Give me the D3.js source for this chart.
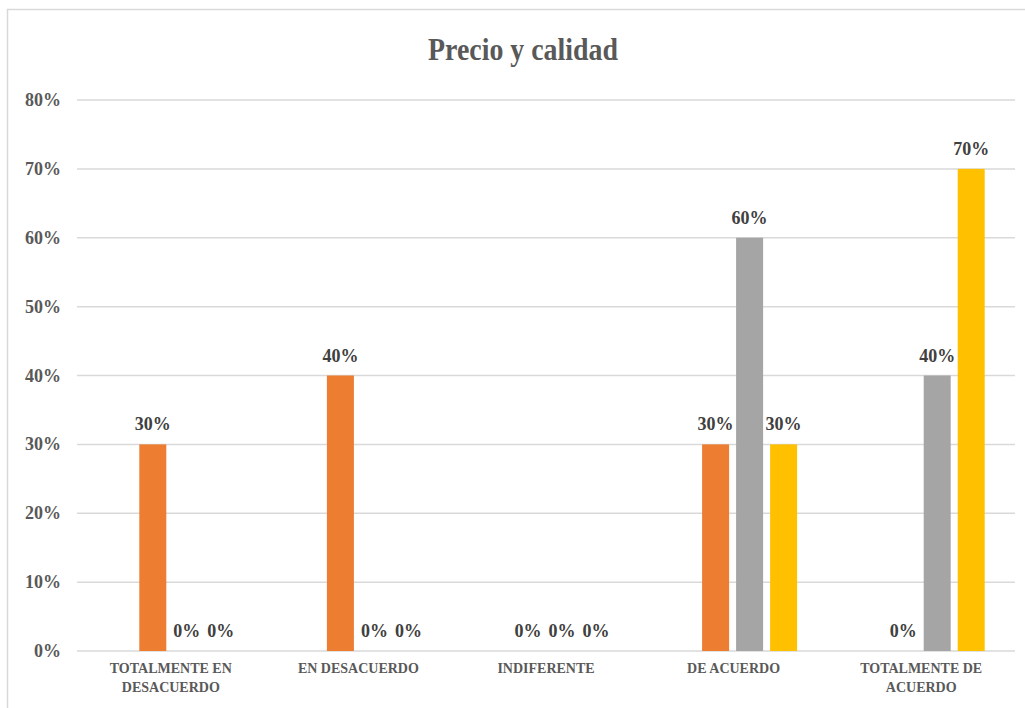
<!DOCTYPE html>
<html>
<head>
<meta charset="utf-8">
<script src="https://cdn.jsdelivr.net/npm/d3@7"></script>
<style>
  body { margin: 0; background: #ffffff; }
  text { font-family: "Liberation Serif", "Times New Roman", serif; }
</style>
</head>
<body>
<script>
'use strict';

// chart values
const categories = ["TOTALMENTE EN DESACUERDO", "EN DESACUERDO", "INDIFERENTE", "DE ACUERDO", "TOTALMENTE DE ACUERDO"];
const categoryLines = [["TOTALMENTE EN", "DESACUERDO"], ["EN DESACUERDO"], ["INDIFERENTE"], ["DE ACUERDO"], ["TOTALMENTE DE", "ACUERDO"]];
const seriesNames = ["Serie1", "Serie2", "Serie3"];
const serie1 = [30, 40, 0, 30, 0];
const serie2 = [0, 0, 0, 60, 40];
const serie3 = [0, 0, 0, 30, 70];
const yTicks = [0, 10, 20, 30, 40, 50, 60, 70, 80];
const colors = ["#ED7D31", "#A5A5A5", "#FFC000"];

(function() {

  let svg = "";

  window.onload = function() {
    svg = d3.select('body')
      .append('svg')
      .attr('width', 1025)
      .attr('height', 708);

    // chart frame
    svg.append('rect')
      .attr('x', 7.5)
      .attr('y', 9.5)
      .attr('width', 1040)
      .attr('height', 720)
      .attr('fill', 'white')
      .attr('stroke', '#d9d9d9')
      .attr('stroke-width', 1.5);

    // title
    svg.append('text')
      .attr('x', 523)
      .attr('y', 60)
      .attr('text-anchor', 'middle')
      .attr('textLength', 190)
      .attr('lengthAdjust', 'spacingAndGlyphs')
      .style('font-size', '32px')
      .style('font-weight', 'bold')
      .style('fill', '#595959')
      .text('Precio y calidad');

    makeBarChart();
  }

  function makeBarChart() {
    let yScale = d3.scaleLinear()
      .domain([0, 80])
      .range([651, 100]);

    let xScale = d3.scaleBand()
      .domain(categories)
      .range([77, 1015]);

    // bars sit a bit right of the category labels in the original
    let groupShift = 16;

    let xInner = d3.scaleBand()
      .domain(seriesNames)
      .range([-47.5, 47.5])
      .paddingInner(7 / 34);

    // gridlines
    svg.append('g')
      .selectAll('line')
      .data(yTicks).enter()
      .append('line')
        .attr('x1', 77)
        .attr('x2', 1015)
        .attr('y1', d => yScale(d))
        .attr('y2', d => yScale(d))
        .attr('stroke', '#d9d9d9')
        .attr('stroke-width', 1.5);

    // y tick labels
    svg.append('g')
      .selectAll('text')
      .data(yTicks).enter()
      .append('text')
        .attr('x', 61)
        .attr('y', d => yScale(d) + 6)
        .attr('text-anchor', 'end')
        .style('font-size', '18px')
        .style('font-weight', 'bold')
        .style('fill', '#595959')
        .text(d => d + '%');

    // category labels
    let catLabels = svg.append('g')
      .selectAll('text')
      .data(categories).enter()
      .append('text')
        .attr('text-anchor', 'middle')
        .style('font-size', '14px')
        .style('font-weight', 'bold')
        .style('fill', '#595959');

    catLabels.each(function(d, i) {
      let cx = xScale(d) + xScale.bandwidth() / 2;
      categoryLines[i].forEach((line, j) => {
        d3.select(this).append('tspan')
          .attr('x', cx)
          .attr('y', 673 + j * 19)
          .text(line);
      });
    });

    // build rows per series
    let allSeries = [serie1, serie2, serie3];
    let rows = [];
    allSeries.forEach((vals, s) => {
      vals.forEach((v, i) => {
        rows.push({ cat: categories[i], series: seriesNames[s], value: v, color: colors[s] });
      });
    });

    let barX = d => xScale(d.cat) + xScale.bandwidth() / 2 + groupShift + xInner(d.series);

    svg.append('g')
      .selectAll('rect')
      .data(rows.filter(d => d.value > 0)).enter()
      .append('rect')
        .attr('x', barX)
        .attr('y', d => yScale(d.value))
        .attr('width', xInner.bandwidth())
        .attr('height', d => yScale(0) - yScale(d.value))
        .attr('fill', d => d.color);

    // data labels
    svg.append('g')
      .selectAll('text')
      .data(rows).enter()
      .append('text')
        .attr('x', d => barX(d) + xInner.bandwidth() / 2)
        .attr('y', d => yScale(d.value) - 14)
        .attr('text-anchor', 'middle')
        .style('font-size', '18px')
        .style('font-weight', 'bold')
        .style('fill', '#404040')
        .text(d => d.value + '%');
  }
})();
</script>
</body>
</html>
